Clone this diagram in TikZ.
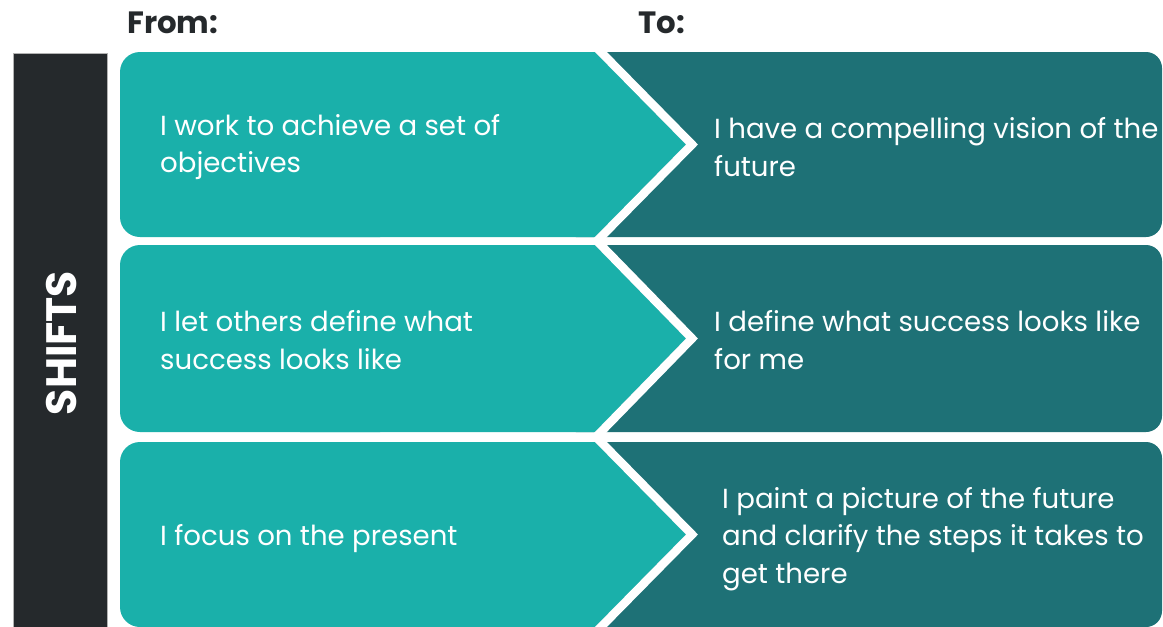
\documentclass[tikz,border=0pt]{standalone}
\usepackage{fontspec}
\setmainfont{Poppins}
\definecolor{tealA}{HTML}{1AB0AA}
\definecolor{tealD}{HTML}{1E7176}
\definecolor{darkbox}{HTML}{25292C}
\definecolor{headc}{HTML}{25292C}
\tikzset{
  fromtxt/.style={anchor=west, align=left, text=white, inner sep=0pt, font=\fontsize{27.6}{37.5}\selectfont},
  totxt/.style={anchor=west, align=left, text=white, inner sep=0pt, font=\fontsize{27.6}{37.5}\selectfont},
  headtxt/.style={anchor=base west, inner sep=0pt, text=headc, font=\fontsize{30.8}{32}\selectfont\bfseries},
}
\begin{document}
\begin{tikzpicture}[x=1pt,y=-1pt]
\useasboundingbox (0,0) rectangle (1163,627);
\fill[white] (0,0) rectangle (1163,627);
% header
\node[headtxt] (from) at (127,33) {From:};
\node[headtxt] (to) at (638,33) {To:};
% left dark box
\fill[darkbox] (13,53) rectangle (107,627);
\draw[gray!60, line width=1] (13,627) -- (13,53) -- (107,53) -- (107,627);
\node[rotate=90, text=white, font=\fontsize{42.5}{44}\selectfont\bfseries, inner sep=0pt] (shifts) at (62,343) {SHIFTS};
% rows
\foreach \T/\B in {52/237, 245/432, 442/627}{
  \pgfmathsetmacro{\M}{(\T+\B)/2}
  \fill[tealD, rounded corners=16] (560,\T) rectangle (1162,\B);
  \fill[tealA, rounded corners=20] (120,\T) rectangle (400,\B);
  \fill[tealA] (300,\T) -- (595,\T) -- (686,\M) -- (595,\B) -- (300,\B) -- cycle;
  \draw[white, line width=8.5, miter limit=10] (595,\T-6) -- (692,\M) -- (595,\B+6);
}
% texts
\node[fromtxt] (f1) at (160,147) {I work to achieve a set of\\objectives};
\node[totxt] (t1) at (714,147) {I have a compelling vision of the\\future};
\node[fromtxt] (f2) at (160,340) {I let others define what\\success looks like};
\node[totxt] (t2) at (714,340) {I define what success looks like\\for me};
\node[fromtxt] (f3) at (160,539) {I focus on the present};
\node[totxt] (t3) at (722,539) {I paint a picture of the future\\and clarify the steps it takes to\\get there};
\end{tikzpicture}
\end{document}
